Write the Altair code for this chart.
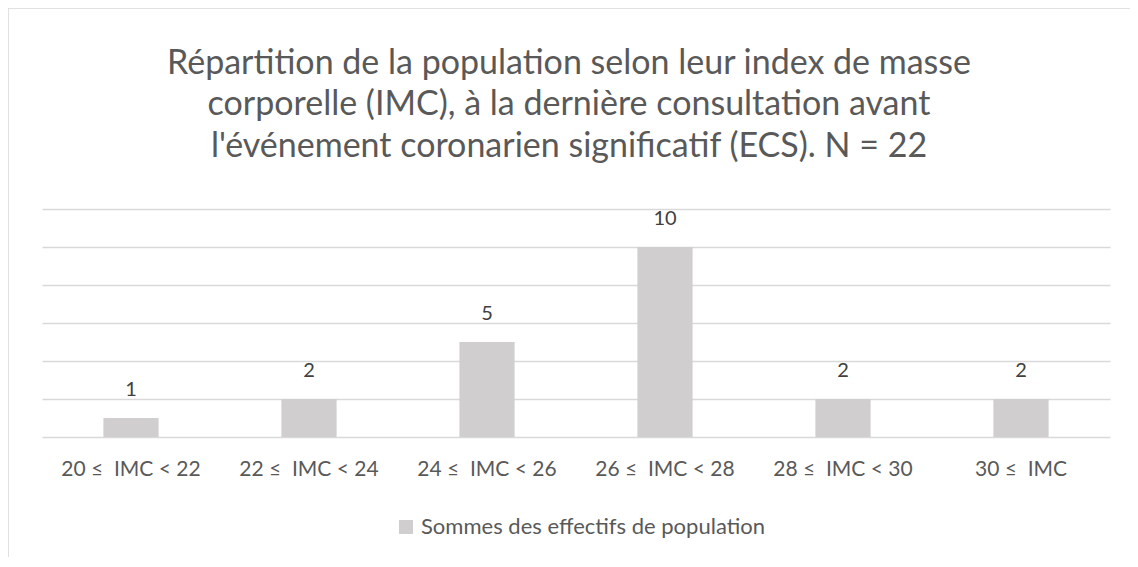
import altair as alt
import pandas as pd

NB = "\u00a0"
categories = ["20 ≤" + NB + " IMC < 22", "22 ≤" + NB + " IMC < 24", "24 ≤" + NB + " IMC < 26",
              "26 ≤" + NB + " IMC < 28", "28 ≤" + NB + " IMC < 30", "30 ≤" + NB + " IMC"]
values = [1, 2, 5, 10, 2, 2]
grid_values = [0, 2, 4, 6, 8, 10, 12]
series_name = "Sommes des effectifs de population"
title_lines = [
    "Répartition de la population selon leur index de masse",
    "corporelle (IMC), à la dernière consultation avant",
    "l'événement coronarien significatif (ECS). N = 22",
]

df = pd.DataFrame({"cat": categories, "val": values, "serie": series_name})

FONT = "Lato"
TXT = "#595959"

base = alt.Chart(df)


def xenc():
    return alt.X("cat:N", sort=categories, title=None,
                 scale=alt.Scale(paddingInner=0.69, paddingOuter=0.345),
                 axis=alt.Axis(labelAngle=0, ticks=False, domain=False, labelPadding=21,
                               labelFontSize=21, labelColor=TXT, labelFont=FONT, grid=False))


def yenc():
    return alt.Y("val:Q", title=None, scale=alt.Scale(domain=[0, 12], nice=False),
                 axis=alt.Axis(values=grid_values, labels=False, ticks=False,
                               domain=False, grid=True, gridColor="#D9D9D9", gridWidth=1.3))


bars = base.mark_bar(color="#D0CECE").encode(
    x=xenc(),
    y=yenc(),
    color=alt.Color("serie:N", scale=alt.Scale(range=["#D0CECE"]),
                    legend=alt.Legend(title=None, orient="none", legendX=353, legendY=307,
                                      symbolType="square", symbolSize=196,
                                      symbolStrokeWidth=0, labelFontSize=22, labelLimit=0,
                                      labelColor=TXT, labelFont=FONT, labelOffset=4)),
)

labels = base.mark_text(font=FONT, fontSize=20, color="#404040", baseline="middle", dy=-28).encode(
    x=xenc(),
    y=yenc(),
    text="val:Q",
)

frame_top = base.mark_rule(color="#D9D9D9", strokeWidth=1.5).encode(
    x=alt.value(-34.5), x2=alt.value(1100), y=alt.value(-201.5))
frame_left = base.mark_rule(color="#D9D9D9", strokeWidth=1.5).encode(
    x=alt.value(-34.5), y=alt.value(-201.5), y2=alt.value(360))

chart = alt.layer(frame_top, frame_left, bars, labels).properties(
    width=1068, height=228,
    title=alt.TitleParams(text=title_lines, anchor="middle", fontSize=34, font=FONT, frame="group",
                          color=TXT, fontWeight="normal", lineHeight=41.5, offset=-157, dx=-7),
    autosize=alt.AutoSizeParams(type="none"),
    padding={"left": 34, "top": 201, "right": 20, "bottom": 120},
).configure(background="white").configure_view(strokeWidth=0, stroke="transparent")

chart.save("out.html", embed_options={"renderer": "svg", "actions": False})
